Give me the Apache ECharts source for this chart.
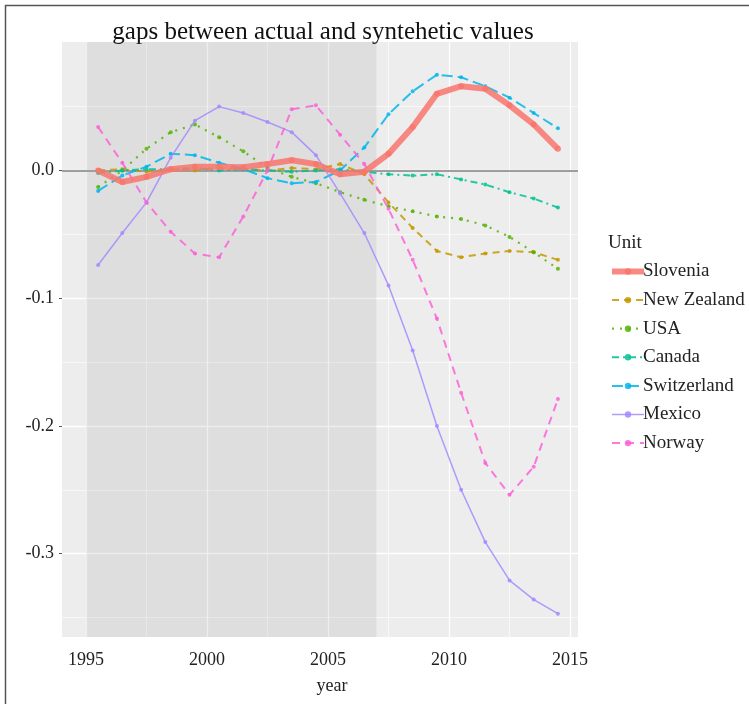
<!DOCTYPE html>
<html><head><meta charset="utf-8">
<script src="https://cdn.jsdelivr.net/npm/echarts@6/dist/echarts.min.js"></script>
<style>html,body{margin:0;padding:0;background:#fff}#c{width:749px;height:704px}</style>
</head><body><div id="c"></div>
<script>
const years = [1995.5,1996.5,1997.5,1998.5,1999.5,2000.5,2001.5,2002.5,2003.5,2004.5,2005.5,2006.5,2007.5,2008.5,2009.5,2010.5,2011.5,2012.5,2013.5,2014.5];
const slovenia    = [0.000,-0.009,-0.005,0.001,0.003,0.003,0.0025,0.005,0.008,0.005,-0.003,-0.001,0.013,0.034,0.060,0.066,0.064,0.051,0.036,0.017];
const newZealand  = [0.000,0.001,-0.001,0.001,0.000,0.002,0.001,0.000,0.002,0.001,0.005,-0.003,-0.025,-0.045,-0.063,-0.068,-0.065,-0.063,-0.064,-0.070];
const usa         = [-0.013,0.000,0.017,0.030,0.036,0.026,0.015,0.002,-0.005,-0.010,-0.017,-0.023,-0.028,-0.032,-0.036,-0.038,-0.043,-0.052,-0.064,-0.077];
const canada      = [-0.002,0.000,0.001,0.001,0.002,0.000,0.001,0.000,-0.001,0.000,0.001,-0.001,-0.003,-0.004,-0.003,-0.007,-0.011,-0.017,-0.022,-0.029];
const switzerland = [-0.016,-0.004,0.003,0.013,0.012,0.006,0.001,-0.006,-0.010,-0.009,0.000,0.018,0.044,0.062,0.075,0.073,0.066,0.057,0.045,0.033];
const mexico      = [-0.074,-0.049,-0.025,0.010,0.039,0.050,0.045,0.038,0.030,0.012,-0.018,-0.049,-0.090,-0.141,-0.200,-0.250,-0.291,-0.321,-0.336,-0.347];
const norway      = [0.034,0.006,-0.025,-0.048,-0.065,-0.068,-0.036,0.000,0.048,0.051,0.028,0.005,-0.030,-0.070,-0.116,-0.174,-0.229,-0.254,-0.232,-0.179];

const units = ['Slovenia','New Zealand','USA','Canada','Switzerland','Mexico','Norway'];
const xTicks = [1995,2000,2005,2010,2015];
const xMinor = [1997.5,2002.5,2007.5,2012.5];
const yTicks = [-0.3,-0.2,-0.1,0.0];
const yMinor = [-0.35,-0.25,-0.15,-0.05,0.05];
const shade = [1995,2007];
const titleText = 'gaps between actual and syntehetic values';

const FONT = '"Liberation Serif","Times New Roman",serif';
const pair = arr => years.map((y,i)=>[y,arr[i]]);

const styles = {
  'Slovenia':    {color:'#F8766D', width:6,   type:'solid', sym:6},
  'New Zealand': {color:'#C49A00', width:2,   type:[7,5], sym:4},
  'USA':         {color:'#53B400', width:2.2, type:[2,6], sym:4},
  'Canada':      {color:'#00C094', width:2,   type:[7,4,2,4], sym:4},
  'Switzerland': {color:'#00B6EB', width:2,   type:[11,5], sym:4},
  'Mexico':      {color:'#A58AFF', width:1.5, type:'solid', sym:4},
  'Norway':      {color:'#FB61D7', width:2,   type:[8,6], sym:4}
};
const values = {'Slovenia':slovenia,'New Zealand':newZealand,'USA':usa,'Canada':canada,'Switzerland':switzerland,'Mexico':mexico,'Norway':norway};

const dataSeries = units.map((u,k)=>{
  const s = styles[u];
  return {
    name:u, type:'line', data:pair(values[u]),
    z: u==='Slovenia'?20:10+k,
    symbol:'circle', symbolSize:s.sym, showSymbol:true,
    itemStyle:{color:s.color, opacity:0.85},
    lineStyle:{color:s.color, width:s.width, type:s.type, opacity:0.85, cap:'butt'},
    emphasis:{disabled:true}
  };
});

const gridLines = [];
xTicks.forEach(v=>gridLines.push({xAxis:v, lineStyle:{width:1.3}}));
yTicks.forEach(v=>gridLines.push({yAxis:v, lineStyle:{width:1.3}}));
xMinor.forEach(v=>gridLines.push({xAxis:v, lineStyle:{width:0.6}}));
yMinor.forEach(v=>gridLines.push({yAxis:v, lineStyle:{width:0.6}}));

const option = {
  animation:false,
  grid:{left:62, right:171, top:42, bottom:67, show:true, backgroundColor:'#EDEDED', borderWidth:0},
  xAxis:{
    type:'value', min:1994.008, max:2015.33,
    splitLine:{show:false}, axisLine:{show:false},
    axisTick:{show:true, customValues:xTicks, length:3, lineStyle:{color:'#555'}},
    axisLabel:{customValues:xTicks, fontSize:18, color:'#222', fontFamily:FONT, margin:14, formatter:v=>String(v)},
    name:'year', nameLocation:'middle', nameGap:40,
    nameTextStyle:{fontSize:18, color:'#222', fontFamily:FONT, padding:[0,0,0,24]}
  },
  yAxis:{
    type:'value', min:-0.3653, max:0.1006,
    splitLine:{show:false}, axisLine:{show:false},
    axisTick:{show:true, customValues:yTicks, length:3, lineStyle:{color:'#555'}},
    axisLabel:{customValues:yTicks, fontSize:18, color:'#222', fontFamily:FONT, margin:8, formatter:v=>v.toFixed(1)}
  },
  legend:{
    data:units.map(u=>({name:u, lineStyle:{width:styles[u].width}})),
    orient:'vertical', left:604, top:257,
    itemWidth:32, itemHeight:8, itemGap:9.6,
    textStyle:{fontSize:19, color:'#222', fontFamily:FONT, lineHeight:18, padding:[0,0,0,-6]},
    selectedMode:false
  },
  graphic:[
    {type:'text', x:323, y:32, style:{text:titleText, font:'25px '+FONT, fill:'#111', textAlign:'center', textVerticalAlign:'middle'}},
    {type:'text', x:608, y:243, style:{text:'Unit', font:'19px '+FONT, fill:'#222', textVerticalAlign:'middle'}},
    {type:'line', shape:{x1:5.5,y1:5,x2:5.5,y2:704}, style:{stroke:'#555', lineWidth:1.5}},
    {type:'line', shape:{x1:5,y1:5.5,x2:749,y2:5.5}, style:{stroke:'#555', lineWidth:1.5}}
  ],
  series:[
    {type:'line', data:[], silent:true, z:1,
      markLine:{silent:true, symbol:'none', label:{show:false}, z:1,
        lineStyle:{color:'#ffffff', type:'solid'}, data:gridLines, animation:false}},
    {type:'line', data:[], silent:true, z:2,
      markArea:{silent:true, z:2, itemStyle:{color:'rgba(120,120,120,0.13)'}, data:[[{xAxis:shade[0]},{xAxis:shade[1]}]]}},
    {type:'line', data:[], silent:true, z:3,
      markLine:{silent:true, symbol:'none', label:{show:false}, z:3,
        lineStyle:{color:'#9E9E9E', width:2, type:'solid'}, data:[{yAxis:0}]}},
    ...dataSeries
  ]
};
const chart = echarts.init(document.getElementById('c'), null, {renderer:'canvas'});
chart.setOption(option);
</script></body></html>
